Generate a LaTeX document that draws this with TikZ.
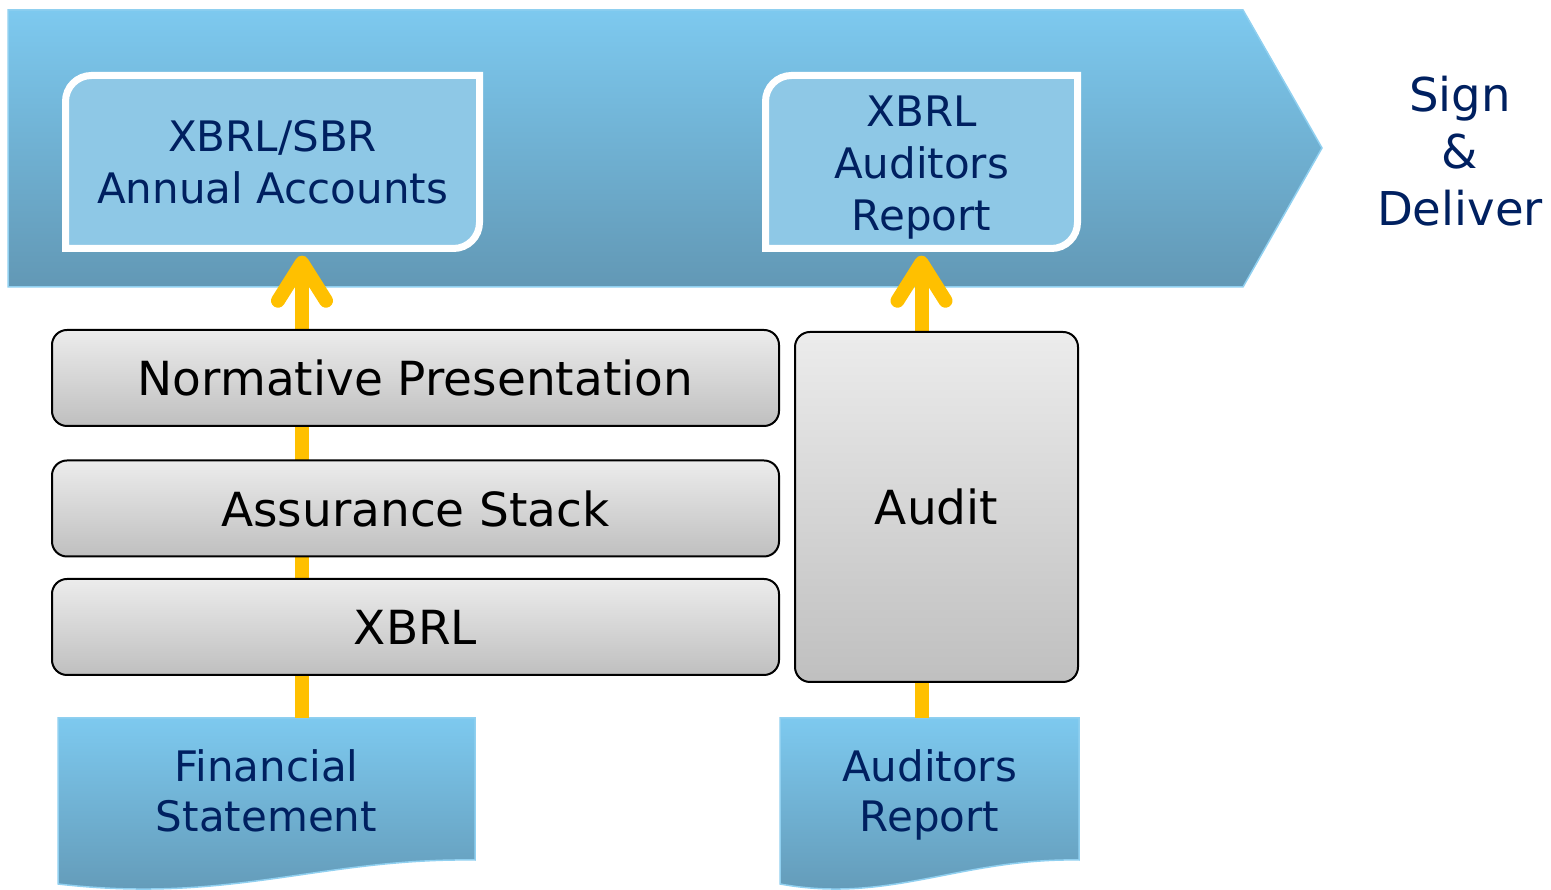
\documentclass[tikz,border=0pt]{standalone}
\usepackage{fontspec}
\setmainfont{DejaVu Sans}
\usetikzlibrary{arrows.meta}
\definecolor{blueTop}{HTML}{7DC9EF}
\definecolor{blueBot}{HTML}{6298B5}
\definecolor{boxBlue}{HTML}{8EC8E6}
\definecolor{edgeBlue}{HTML}{90D0F0}
\definecolor{navy}{HTML}{002060}
\definecolor{flowYellow}{HTML}{FFC000}
\begin{document}
\begin{tikzpicture}[x=1pt,y=1pt,
    bluefill/.style={top color=blueTop, bottom color=blueBot, draw=edgeBlue, line width=1.5pt},
    outframe/.style={draw=white, fill=boxBlue, line width=7pt},
    outbox/.style={minimum width=414pt, minimum height=173pt, inner sep=0pt, align=center, text=navy, font=\fontsize{42}{52}\selectfont},
    docbox/.style={minimum width=417pt, inner sep=0pt, align=center, text=navy, font=\fontsize{42}{50}\selectfont},
    layer/.style={draw=black, line width=2pt, rounded corners=15pt, top color=gray!15, bottom color=gray!50, minimum width=727pt, minimum height=96pt, inner sep=0pt, font=\fontsize{47}{56}\selectfont},
    flow/.style={draw=flowYellow, line width=14pt, -{Straight Barb[length=38pt,width=48pt,round]}}]
  \useasboundingbox (0,0) rectangle (1551,890);
  \draw[bluefill] (8,880) -- (1243,880) -- (1322,742) -- (1243,603) -- (8,603) -- cycle;
  \draw[outframe] (479.5,814.5) -- (479.5,667.5) arc[start angle=0,end angle=-90,radius=26] -- (65.5,641.5) -- (65.5,788.5) arc[start angle=180,end angle=90,radius=26] -- cycle;
  \draw[outframe] (1077.5,814.5) -- (1077.5,667.5) arc[start angle=0,end angle=-90,radius=26] -- (765.5,641.5) -- (765.5,788.5) arc[start angle=180,end angle=90,radius=26] -- cycle;
  \node[outbox] (aa) at (272.5,728) {XBRL/SBR\\Annual Accounts};
  \node[outbox, minimum width=312pt] (xr) at (921.5,722) {XBRL\\Auditors\\Report};
  \draw[bluefill] (58,172) -- (475,172) -- (475,30) .. controls (320,32) and (230,-14) .. (58,6) -- cycle;
  \draw[bluefill] (780,172) -- (1079,172) -- (1079,30) .. controls (960,32) and (890,-14) .. (780,6) -- cycle;
  \node[docbox, minimum height=146pt] (fs) at (266.5,99) {Financial\\Statement};
  \node[docbox, minimum width=299pt, minimum height=154pt] (ar) at (929.5,95) {Auditors\\Report};
  \draw[flow, shorten >=7pt] ([xshift=35.5pt]fs.north) -- ([xshift=29.5pt]aa.south);
  \draw[flow, shorten >=1pt] ([xshift=-8pt]ar.north) -- (xr.south);
  \node[layer] (np) at (415.5,512) {Normative Presentation};
  \node[layer] (as) at (415.5,381.5) {Assurance Stack};
  \node[layer] (xb) at (415.5,263) {XBRL};
  \node[layer, minimum width=283pt, minimum height=350pt] (au) at (936.5,383) {Audit};
  \node[align=center, text=navy, font=\fontsize{46.6}{57}\selectfont] (sd) at (1460,739) {Sign\\\&\\Deliver};
\end{tikzpicture}
\end{document}
